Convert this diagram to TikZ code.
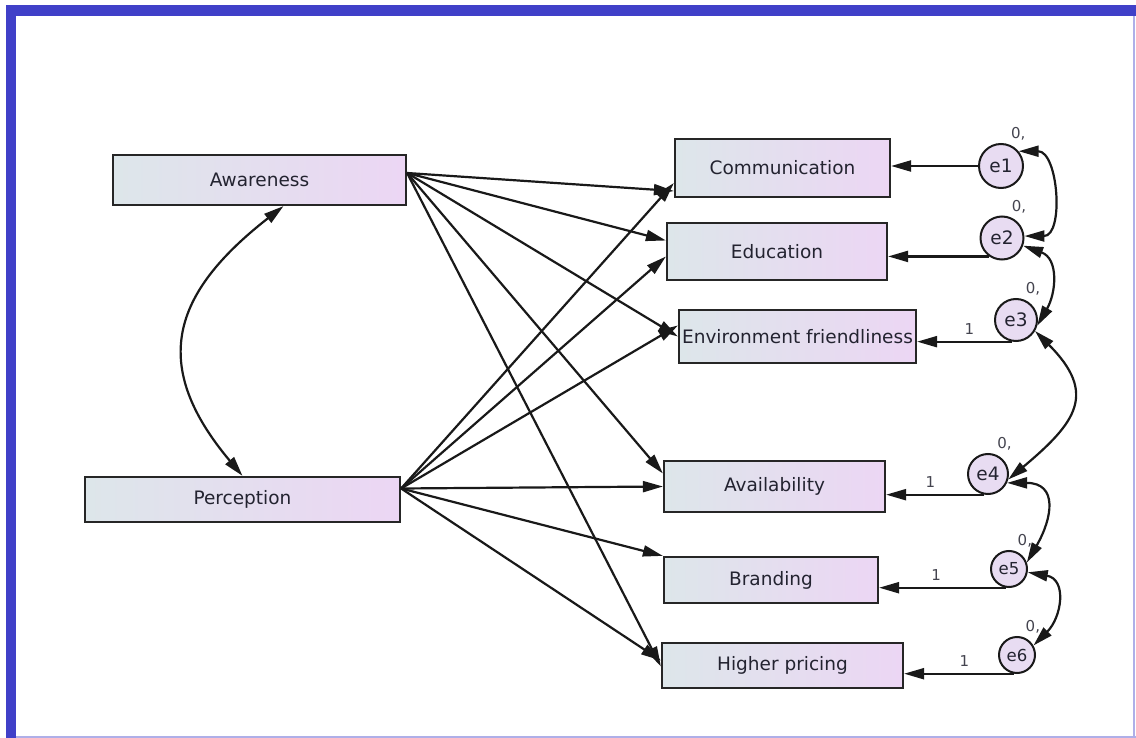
\documentclass[tikz,border=0pt]{standalone}
\usepackage{fontspec}
\setmainfont{DejaVu Sans}
\usepackage{tikz}
\usetikzlibrary{arrows.meta}
\definecolor{SemFrame}{RGB}{64,64,200}
\definecolor{SemFrameThin}{RGB}{175,175,232}
\definecolor{SemBoxLeft}{RGB}{221,230,234}
\definecolor{SemBoxRight}{RGB}{236,214,244}
\definecolor{SemCircle}{RGB}{232,220,242}
\definecolor{SemText}{RGB}{35,35,48}

\begin{document}
\begin{tikzpicture}[x=1pt,y=1pt,
  var/.style 2 args={rectangle,draw=black!85,line width=2.2pt,left color=SemBoxLeft,right color=SemBoxRight,minimum width=#1pt,minimum height=#2pt,inner sep=0pt,text=SemText,font=\fontsize{18.5}{20}\selectfont},
  err/.style={circle,draw=black!90,line width=2pt,fill=SemCircle,inner sep=0pt,minimum size=#1pt,text=SemText,font=\fontsize{18.5}{20}\selectfont,label={[lbl,label distance=3pt]70:{0,}}},
  lbl/.style={font=\fontsize{15}{16}\selectfont,text=SemText!85,inner sep=1pt},
  pth/.style={-{Triangle[length=20pt,width=11pt]},line width=2.2pt,black!90},
  cov/.style={{Triangle[length=20pt,width=11pt]}-{Triangle[length=20pt,width=11pt]},line width=2.2pt,black!90}]
\useasboundingbox (0,0) rectangle (1136,-738);
\fill[SemFrame] (6,-5) rectangle (1136,-16);
\fill[SemFrame] (6,-5) rectangle (16,-738);
\draw[SemFrameThin,line width=2pt] (16,-737) -- (1136,-737);
\draw[SemFrameThin,line width=1.5pt] (1134,-16) -- (1134,-737);

\node[var={293}{50}] (aw) at (259.5,-180) {Awareness};
\node[var={315}{45}] (per) at (242.5,-499.5) {Perception};
\node[var={215}{58}] (comm) at (782.5,-168) {Communication};
\node[var={220}{57}] (edu) at (777,-251.5) {Education};
\node[var={237}{53}] (env) at (797.5,-336.5) {Environment friendliness};
\node[var={221}{51}] (avail) at (774.5,-486.5) {Availability};
\node[var={214}{46}] (brand) at (771,-580) {Branding};
\node[var={241}{45}] (hp) at (782.5,-665.5) {Higher pricing};

\node[err=44] (e1) at (1001,-166) {e1};
\node[err=43] (e2) at (1002,-238) {e2};
\node[err=42] (e3) at (1016,-320) {e3};
\node[err=40] (e4) at (988,-474) {e4};
\node[err=36,font=\fontsize{16.5}{18}\selectfont] (e5) at (1009,-569) {e5};
\node[err=36,font=\fontsize{16.5}{18}\selectfont] (e6) at (1017,-655) {e6};

\coordinate (awo) at ([yshift=7pt]aw.east);
\coordinate (pero) at ([yshift=11pt]per.east);
\foreach \t/\s in {comm/-23,edu/11,env/0,avail/13,hp/-1} {
   \draw[pth] (awo) -- ([yshift=\s pt]\t.west);
}
\foreach \t/\s in {comm/-15,edu/-5,env/11,avail/0,hp/5} {
   \draw[pth] (pero) -- ([yshift=\s pt]\t.west);
}
\draw[pth] (pero) -- (brand.north west);

\draw[pth] (e1.west) -- (comm.east |- e1.west);
\draw[pth] (e2.235) -- (edu.east |- e2.235);
\draw[pth] (e3.260) -- (env.east |- e3.260) node[lbl,above=5pt,pos=0.45] {1};
\draw[pth] (e4.260) -- (avail.east |- e4.260) node[lbl,above=5pt,pos=0.55] {1};
\draw[pth] (e5.260) -- (brand.east |- e5.260) node[lbl,above=5pt,pos=0.55] {1};
\draw[pth] (e6.260) -- (hp.east |- e6.260) node[lbl,above=5pt,pos=0.45] {1};

\draw[cov] (e1.40) to[out=0,in=0,looseness=1.2] (e2.5);
\draw[cov] (e2.-20) to[out=-20,in=60,looseness=1.2] (e3.-15);
\draw[cov] (e3.-30) to[out=-45,in=40,looseness=1.5] (e4.-15);
\draw[cov] (e4.-25) to[out=0,in=60,looseness=1.6] (e5.20);
\draw[cov] (e5.-10) to[out=-10,in=45,looseness=1.4] (e6.30);
\draw[cov] ([xshift=24pt]aw.south) to[out=218,in=130,looseness=1.35] (per.north);
\end{tikzpicture}
\end{document}
